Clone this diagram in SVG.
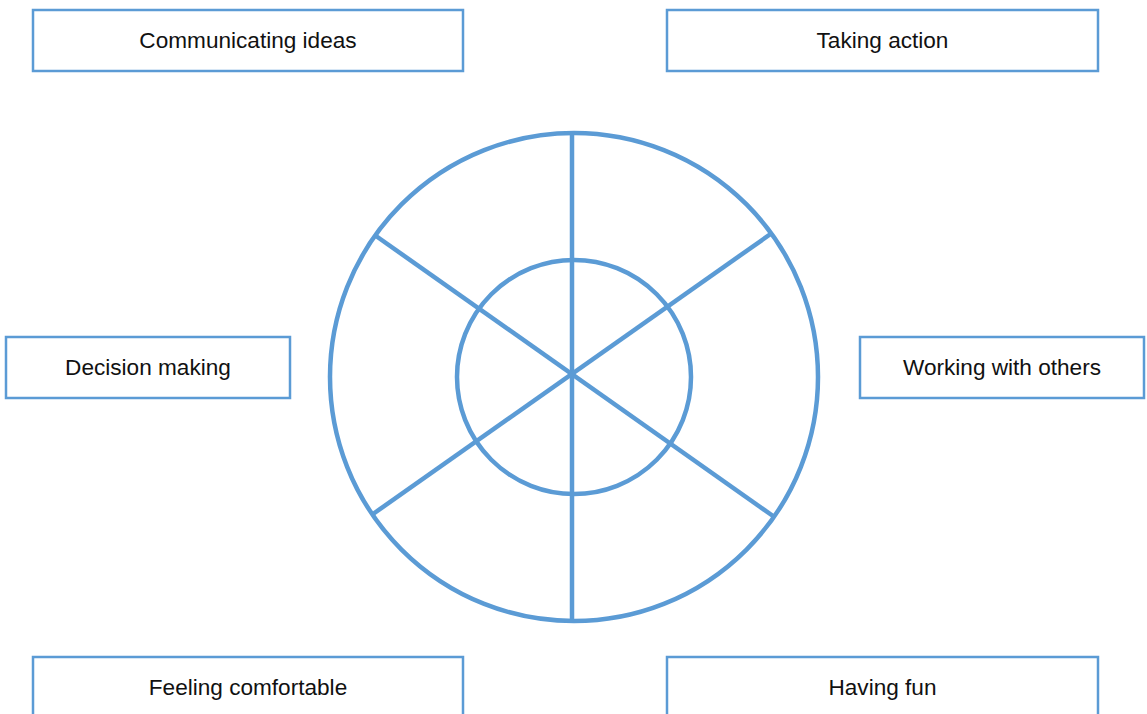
<svg xmlns="http://www.w3.org/2000/svg" width="1147" height="714" viewBox="0 0 1147 714">
<style>
.box{fill:#fff;stroke:#5B9BD5;stroke-width:2.5}
.lbl{font-family:"Liberation Sans",Arial,sans-serif;font-size:22.6px;fill:#111;text-anchor:middle}
.wheel{fill:none;stroke:#5B9BD5;stroke-width:4.5}
</style>
<rect width="1147" height="714" fill="#fff"/>
<g id="connectors">
<circle class="wheel" cx="574" cy="377" r="244"/>
<circle class="wheel" cx="574" cy="377" r="117"/>
<line class="wheel" x1="572" y1="133" x2="572" y2="621"/>
<line class="wheel" x1="376" y1="236" x2="773" y2="516"/>
<line class="wheel" x1="772" y1="233" x2="373" y2="514"/>
</g>
<g id="communicating"><rect class="box" x="33" y="10" width="430" height="61"/><text class="lbl" x="248" y="48">Communicating ideas</text></g>
<g id="taking"><rect class="box" x="667" y="10" width="431" height="61"/><text class="lbl" x="882.5" y="48">Taking action</text></g>
<g id="decision"><rect class="box" x="6" y="337" width="284" height="61"/><text class="lbl" x="148" y="375">Decision making</text></g>
<g id="working"><rect class="box" x="860" y="337" width="284" height="61"/><text class="lbl" x="1002" y="375">Working with others</text></g>
<g id="feeling"><rect class="box" x="33" y="657" width="430" height="70"/><text class="lbl" x="248" y="695">Feeling comfortable</text></g>
<g id="fun"><rect class="box" x="667" y="657" width="431" height="70"/><text class="lbl" x="882.5" y="695">Having fun</text></g>
</svg>
